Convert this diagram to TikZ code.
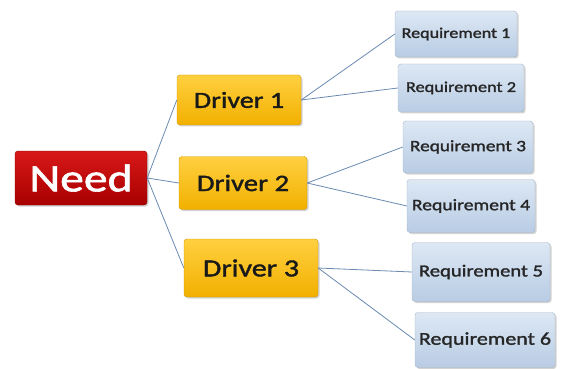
\documentclass[tikz,border=0pt]{standalone}
\usepackage{fontspec}
\usetikzlibrary{shadows}
\newfontfamily\boxfont[FakeStretch=1.22,FakeBold=1.6]{Carlito}
\definecolor{needtop}{HTML}{D81818}
\definecolor{needbot}{HTML}{A80000}
\definecolor{drvtop}{HTML}{FFD040}
\definecolor{drvbot}{HTML}{F2B000}
\definecolor{reqtop}{HTML}{DDE8F4}
\definecolor{reqbot}{HTML}{B8CCE4}
\definecolor{linkcol}{HTML}{6A8AB2}
\tikzset{
  box/.style={rounded corners=3pt, inner sep=0pt, font=\boxfont,
    drop shadow={shadow xshift=1.5pt, shadow yshift=-1.5pt, opacity=0.35}},
  needbox/.style={box, draw=needbot!80!black, top color=needtop, bottom color=needbot,
    text=white, minimum width=132pt, minimum height=54pt},
  drvbox/.style={box, draw=drvbot!85!black, top color=drvtop, bottom color=drvbot, text=black!90},
  reqbox/.style={box, draw=reqbot!70!gray, top color=reqtop, bottom color=reqbot, text=black!85},
  link/.style={draw=linkcol, line width=0.8pt}
}
\begin{document}
\begin{tikzpicture}[x=1pt,y=-1pt]
  \useasboundingbox (0,0) rectangle (563,369);
  \node[needbox] (need) at (81,178) {\fontsize{39}{39}\selectfont Need};
  \node[drvbox, minimum width=124pt, minimum height=50pt] (d1) at (239,100) {\fontsize{23}{23}\selectfont Driver 1};
  \node[drvbox, minimum width=128pt, minimum height=53pt] (d2) at (243,183) {\fontsize{23.5}{24}\selectfont Driver 2};
  \node[drvbox, minimum width=134pt, minimum height=58pt] (d3) at (251,268) {\fontsize{24.5}{25}\selectfont Driver 3};
  \node[reqbox, minimum width=122pt, minimum height=46pt] (r1) at (456,34) {\fontsize{14.8}{15}\selectfont Requirement 1};
  \node[reqbox, minimum width=126pt, minimum height=48pt] (r2) at (461,88) {\fontsize{15}{15}\selectfont Requirement 2};
  \node[reqbox, minimum width=130pt, minimum height=52pt] (r3) at (468,147) {\fontsize{15.8}{16}\selectfont Requirement 3};
  \node[reqbox, minimum width=128pt, minimum height=53pt] (r4) at (471,206) {\fontsize{16.1}{16}\selectfont Requirement 4};
  \node[reqbox, minimum width=138pt, minimum height=59pt] (r5) at (481,272) {\fontsize{16.9}{17}\selectfont Requirement 5};
  \node[reqbox, minimum width=140pt, minimum height=55pt] (r6) at (485,340) {\fontsize{18}{18}\selectfont Requirement 6};
  \draw[link] (need.east) -- (d1.west);
  \draw[link] (need.east) -- (d2.west);
  \draw[link] (need.east) -- (d3.west);
  \draw[link] (d1.east) -- (r1.west);
  \draw[link] (d1.east) -- (r2.west);
  \draw[link] (d2.east) -- (r3.west);
  \draw[link] (d2.east) -- (r4.west);
  \draw[link] (d3.east) -- (r5.west);
  \draw[link] (d3.east) -- (r6.west);
\end{tikzpicture}
\end{document}
